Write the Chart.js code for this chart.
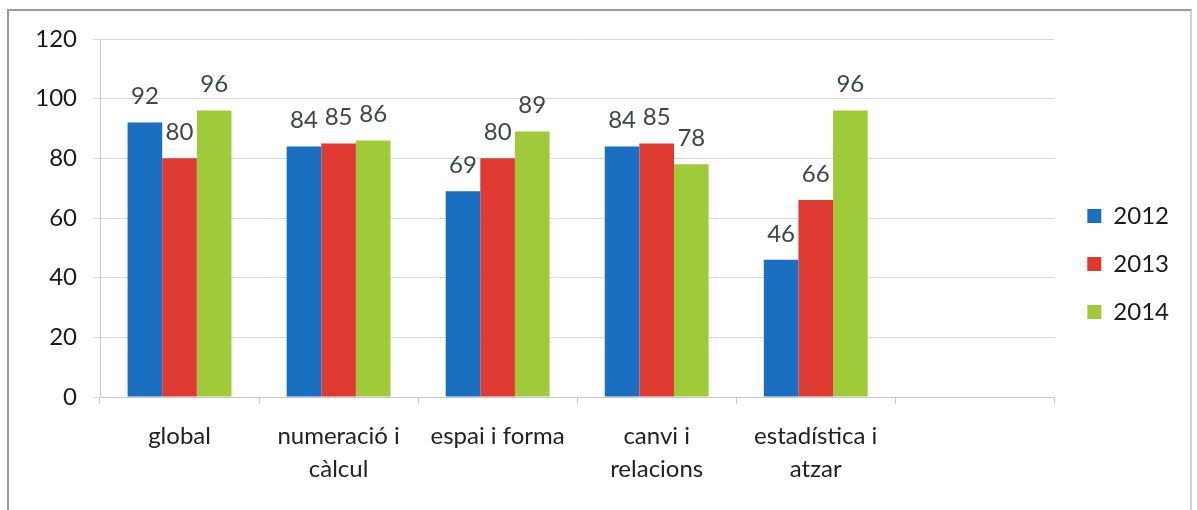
<!DOCTYPE html>
<html>
<head>
<meta charset="utf-8">
<script src="https://cdn.jsdelivr.net/npm/chart.js@4/dist/chart.umd.min.js"></script>
<style>
    html, body { margin: 0; padding: 0; background: #fff; }
    #frame {
        position: absolute; left: 7px; top: 9px; width: 1181px; height: 520px;
        border: 2px solid #9a9a9a; border-right-color: #d0d0d0;
    }
    #wrap { position: absolute; left: 0; top: 0; width: 1197px; height: 510px; }
</style>
</head>
<body>
<div id="frame"></div>
<div id="wrap"><canvas id="chart" width="1197" height="510"></canvas></div>
<script>
const categories = ['global', ['numeració i', 'càlcul'], 'espai i forma', ['canvi i', 'relacions'], ['estadística i', 'atzar'], ''];
const years = ['2012', '2013', '2014'];
const values2012 = [92, 84, 69, 84, 46, null];
const values2013 = [80, 85, 80, 85, 66, null];
const values2014 = [96, 86, 89, 78, 96, null];
const yTicks = [0, 20, 40, 60, 80, 100, 120];

const colors = ['#1b6fc1', '#df3a31', '#9fcb3a'];
const font = 'Lato';

// value labels drawn above each bar
const valueLabels = {
    id: 'valueLabels',
    afterDatasetsDraw(chart) {
        const ctx = chart.ctx;
        ctx.save();
        ctx.font = '24px ' + font;
        ctx.fillStyle = '#3e4747';
        ctx.textAlign = 'center';
        ctx.textBaseline = 'middle';
        chart.data.datasets.forEach((ds, i) => {
            const meta = chart.getDatasetMeta(i);
            meta.data.forEach((bar, j) => {
                const v = ds.data[j];
                if (v == null) return;
                ctx.fillText(String(v), bar.x, bar.y - 26);
            });
        });
        ctx.restore();
    }
};

const ctx = document.getElementById('chart').getContext('2d');
new Chart(ctx, {
    type: 'bar',
    data: {
        labels: categories,
        datasets: [
            { label: years[0], data: values2012, backgroundColor: colors[0] },
            { label: years[1], data: values2013, backgroundColor: colors[1] },
            { label: years[2], data: values2014, backgroundColor: colors[2] }
        ]
    },
    options: {
        responsive: false,
        animation: false,
        categoryPercentage: 0.653,
        barPercentage: 1,
        layout: { padding: { top: 39, bottom: 21, left: 0, right: 18 } },
        plugins: {
            legend: {
                position: 'right',
                labels: {
                    color: '#1a1a1a',
                    font: { family: font, size: 24 },
                    boxWidth: 14,
                    boxHeight: 14,
                    padding: 24
                }
            },
            tooltip: { enabled: false }
        },
        scales: {
            x: {
                grid: { drawOnChartArea: false, offset: true, tickLength: 7, color: '#c8c8c8' },
                border: { color: '#c8c8c8' },
                ticks: {
                    color: '#222',
                    padding: 16,
                    maxRotation: 0,
                    autoSkip: false,
                    font: { family: font, size: 24, lineHeight: 1.375 }
                },
                afterFit: s => { s.height = 92; }
            },
            y: {
                min: 0,
                max: 120,
                afterBuildTicks: s => { s.ticks = yTicks.map(v => ({ value: v })); },
                grid: { color: '#d9d9d9', tickLength: 7 },
                border: { color: '#c8c8c8' },
                ticks: {
                    color: '#1a1a1a',
                    padding: 16,
                    font: { family: font, size: 24 }
                },
                afterFit: s => { s.width = 100; }
            },
            y2: {
                position: 'right',
                display: true,
                grid: { display: false },
                border: { display: false },
                ticks: { display: false },
                afterFit: s => { s.width = 9; }
            }
        }
    },
    plugins: [valueLabels]
});
</script>
</body>
</html>
